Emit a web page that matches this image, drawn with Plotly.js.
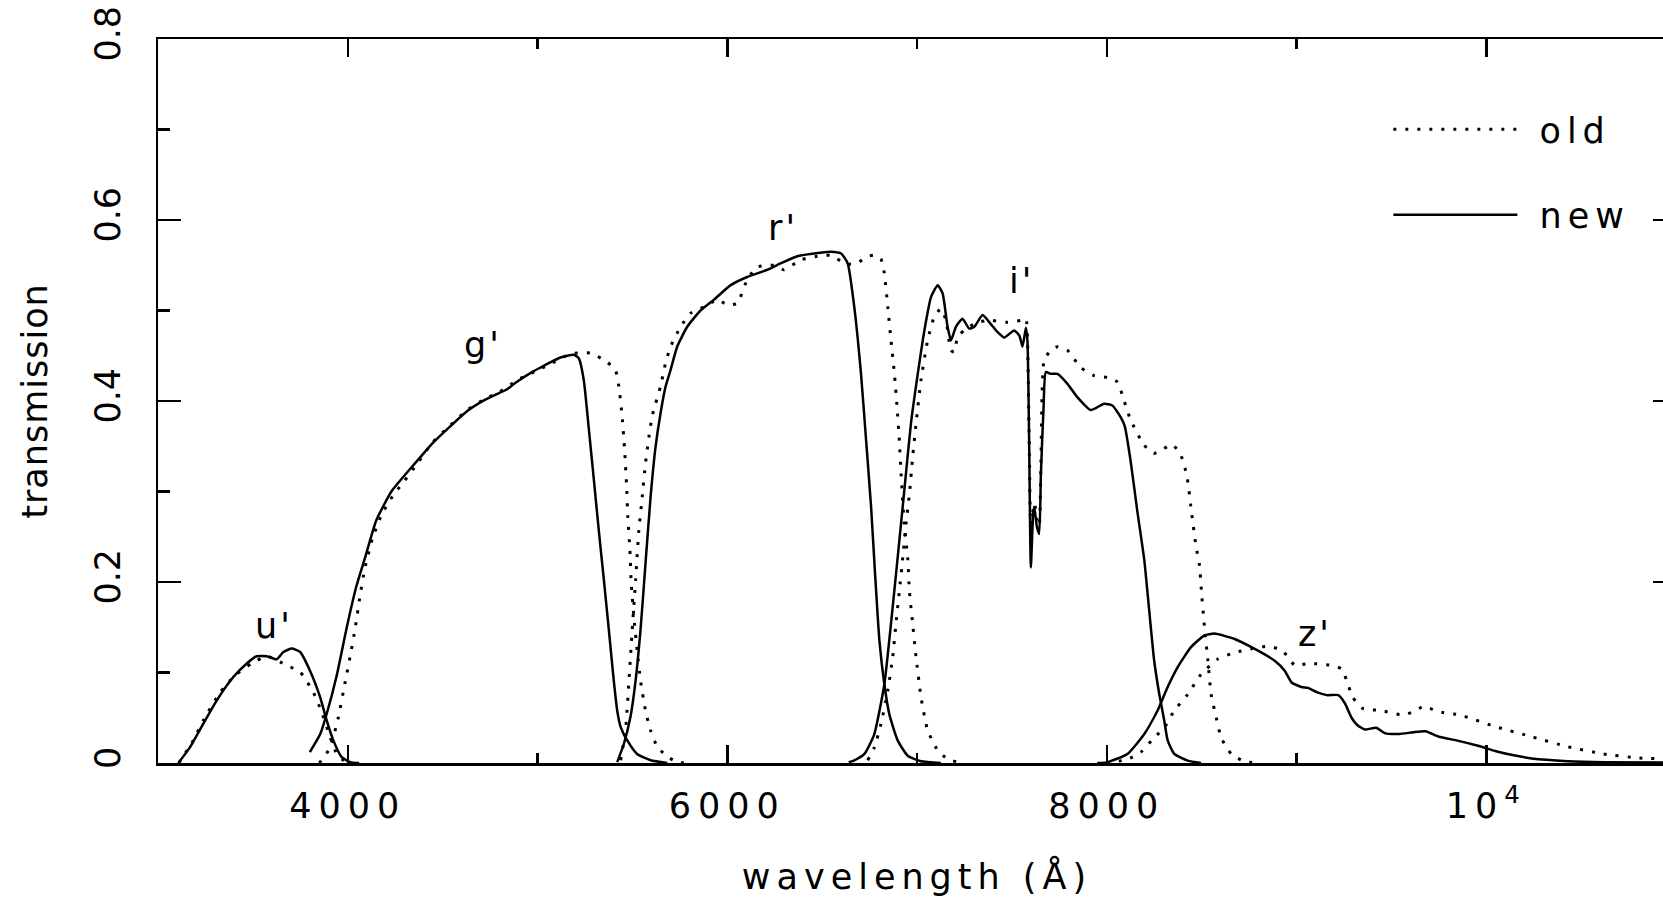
<!DOCTYPE html>
<html>
<head>
<meta charset="utf-8">
<script src="https://cdn.plot.ly/plotly-3.0.1.min.js"></script>
<style>
  html, body { margin: 0; padding: 0; overflow: hidden; background: #fff; }
  #chart { width: 1700px; height: 897px; }
  .xtick text { letter-spacing: 7px; }
  .g-xtitle text { letter-spacing: 6px; }
  .g-ytitle text { letter-spacing: 1px; }
  .legendtext { letter-spacing: 6px; }
  .annotation-text { letter-spacing: 3px; }
</style>
</head>
<body>
<div id="chart"></div>
<script>
// ---- data: wavelength (Angstrom) and transmission ----
const new_u_wl = [3107,3169,3239,3309,3397,3468,3520,3573,3626,3661,3705,3749,3801,3854,3889,3924,3968,4012,4060];
const new_u_t  = [0,0.0176,0.0435,0.069,0.095,0.110,0.118,0.118,0.1146,0.1226,0.1264,0.1226,0.102,0.073,0.047,0.025,0.0065,0.001,0];
const old_u_wl = [3110,3186,3239,3327,3406,3494,3573,3678,3749,3819,3863,3907,3942,3977,4020];
const old_u_t  = [0,0.025,0.047,0.078,0.097,0.110,0.118,0.108,0.1005,0.078,0.056,0.0286,0.010,0.003,0];

const new_g_wl = [3800,3855,3890,3940,3995,4045,4090,4150,4230,4300,4370,4450,4540,4630,4720,4800,4840,4890,4980,5016,5070,5121,5192,5218,5244,5271,5297,5323,5350,5376,5402,5420,5438,5473,5525,5596,5684];
const new_g_t  = [0.012,0.032,0.055,0.095,0.150,0.195,0.226,0.268,0.300,0.318,0.335,0.354,0.372,0.389,0.401,0.409,0.413,0.421,0.433,0.437,0.443,0.448,0.451,0.447,0.423,0.368,0.313,0.257,0.202,0.147,0.091,0.058,0.040,0.025,0.010,0.003,0];
const old_g_wl = [3850,3865,3905,3950,3985,4012,4040,4065,4090,4130,4180,4240,4300,4370,4450,4540,4630,4720,4800,4900,5000,5069,5174,5279,5367,5411,5429,5446,5459,5469,5476,5487,5494,5508,5525,5543,5569,5596,5631,5684,5736,5780];
const old_g_t  = [0,0.004,0.016,0.050,0.088,0.117,0.150,0.185,0.215,0.248,0.275,0.296,0.312,0.332,0.355,0.373,0.390,0.402,0.410,0.424,0.434,0.441,0.452,0.453,0.443,0.434,0.416,0.383,0.346,0.309,0.272,0.235,0.198,0.161,0.125,0.091,0.058,0.036,0.018,0.007,0.001,0];

const new_r_wl = [5420,5455,5490,5517,5543,5569,5596,5622,5648,5675,5701,5736,5789,5859,5930,6018,6105,6211,6281,6369,6457,6545,6600,6635,6670,6705,6732,6758,6779,6802,6828,6854,6898,6951,7021,7126];
const new_r_t  = [0.001,0.021,0.051,0.091,0.147,0.220,0.294,0.349,0.386,0.416,0.434,0.460,0.482,0.500,0.512,0.528,0.537,0.545,0.552,0.560,0.563,0.565,0.563,0.552,0.503,0.430,0.356,0.283,0.209,0.135,0.087,0.054,0.025,0.008,0.002,0];
const old_r_wl = [5438,5464,5482,5499,5517,5534,5552,5569,5587,5604,5622,5648,5675,5701,5754,5807,5877,5950,6000,6053,6105,6158,6246,6299,6387,6475,6545,6630,6690,6740,6780,6810,6828,6846,6863,6881,6895,6907,6916,6933,6951,6960,6977,6995,7021,7056,7109,7161,7232];
const old_r_t  = [0.003,0.036,0.091,0.147,0.202,0.257,0.294,0.331,0.360,0.383,0.397,0.416,0.442,0.460,0.482,0.497,0.504,0.512,0.506,0.508,0.534,0.548,0.550,0.545,0.556,0.560,0.561,0.551,0.553,0.560,0.561,0.557,0.541,0.504,0.467,0.430,0.393,0.356,0.320,0.264,0.227,0.190,0.154,0.117,0.073,0.036,0.014,0.0044,0];

const new_i_wl = [6640,6670,6723,6775,6828,6863,6898,6933,6968,7004,7039,7074,7109,7135,7161,7179,7205,7240,7275,7302,7346,7389,7425,7460,7486,7512,7540,7556,7574,7582,7591,7600,7612,7618,7632,7644,7653,7667,7679,7705,7740,7793,7846,7916,7986,8030,8074,8095,8125,8160,8198,8224,8250,8277,8303,8321,8356,8427,8497];
const new_i_t  = [0.001,0.003,0.010,0.032,0.087,0.154,0.227,0.301,0.375,0.430,0.478,0.515,0.528,0.519,0.482,0.467,0.482,0.491,0.480,0.482,0.495,0.485,0.476,0.470,0.474,0.478,0.472,0.460,0.481,0.467,0.356,0.216,0.275,0.283,0.261,0.253,0.320,0.393,0.432,0.430,0.430,0.419,0.404,0.390,0.397,0.395,0.382,0.372,0.335,0.280,0.224,0.168,0.113,0.076,0.047,0.025,0.010,0.0026,0];
const old_i_wl = [6740,6775,6810,6846,6872,6889,6907,6925,6942,6960,6977,6995,7021,7056,7091,7126,7153,7179,7196,7214,7249,7319,7389,7477,7547,7574,7582,7591,7600,7612,7620,7632,7644,7653,7670,7705,7740,7793,7863,7933,8004,8056,8080,8124,8194,8247,8299,8343,8387,8422,8448,8470,8489,8500,8515,8533,8550,8577,8603,8656,8727,8800];
const old_i_t  = [0.003,0.017,0.043,0.080,0.117,0.154,0.190,0.227,0.264,0.297,0.338,0.375,0.423,0.467,0.493,0.502,0.489,0.456,0.454,0.471,0.478,0.487,0.489,0.487,0.489,0.491,0.470,0.360,0.250,0.280,0.287,0.268,0.262,0.330,0.445,0.456,0.460,0.456,0.437,0.428,0.426,0.421,0.408,0.380,0.352,0.342,0.347,0.352,0.342,0.318,0.275,0.240,0.218,0.187,0.150,0.113,0.076,0.050,0.028,0.010,0.0015,0];

const new_z_wl = [7950,8000,8109,8198,8268,8321,8374,8444,8515,8568,8674,8780,8885,8938,8974,9026,9060,9110,9160,9220,9255,9290,9320,9360,9420,9465,9540,9616,9680,9750,9843,9956,10051,10145,10240,10430,10620,10950];
const new_z_t  = [0,0.0007,0.010,0.032,0.058,0.084,0.106,0.128,0.141,0.143,0.137,0.126,0.113,0.102,0.089,0.084,0.083,0.078,0.075,0.075,0.066,0.050,0.042,0.037,0.039,0.033,0.032,0.034,0.035,0.029,0.025,0.019,0.013,0.0085,0.005,0.002,0.0008,0.0004];
const old_z_wl = [8000,8109,8180,8250,8303,8356,8427,8497,8586,8674,8780,8850,8921,8956,8990,9068,9181,9238,9270,9295,9351,9446,9559,9620,9672,9720,9767,9862,10051,10240,10429,10618,10807,10950];
const old_z_t  = [0,0.004,0.012,0.028,0.039,0.058,0.076,0.098,0.115,0.122,0.127,0.129,0.125,0.117,0.108,0.110,0.108,0.104,0.088,0.073,0.060,0.058,0.053,0.057,0.063,0.059,0.056,0.053,0.040,0.029,0.018,0.010,0.0055,0.0045];

const band_labels = ["u'", "g'", "r'", "i'", "z'"];
const series_names = ["old", "new"];
const x_tick_vals = [4000, 6000, 8000, 10000];
const x_tick_text = ["4000", "6000", "8000", "10<sup>4</sup>"];
const x_minor_vals = [5000, 7000, 9000];
const y_tick_vals = [0, 0.2, 0.4, 0.6, 0.8];
const y_tick_text = ["0", "0.2", "0.4", "0.6", "0.8"];
const y_minor_vals = [0.1, 0.3, 0.5, 0.7];

// ---- build traces ----
const FONT = "DejaVu Sans, Lato, sans-serif";
const FS = 35;
const oldSets = [[old_u_wl, old_u_t], [old_g_wl, old_g_t], [old_r_wl, old_r_t], [old_i_wl, old_i_t], [old_z_wl, old_z_t]];
const newSets = [[new_u_wl, new_u_t], [new_g_wl, new_g_t], [new_r_wl, new_r_t], [new_i_wl, new_i_t], [new_z_wl, new_z_t]];

const traces = [];
oldSets.forEach((s, k) => traces.push({
  type: 'scatter', mode: 'lines', x: s[0], y: s[1],
  name: '\u00a0' + series_names[0], legendgroup: 'old', showlegend: k === 0,
  line: {color: '#000', width: 3, dash: '3px,9px', shape: 'spline', smoothing: 0.5},
  hoverinfo: 'skip'
}));
newSets.forEach((s, k) => traces.push({
  type: 'scatter', mode: 'lines', x: s[0], y: s[1],
  name: '\u00a0' + series_names[1], legendgroup: 'new', showlegend: k === 0,
  line: {color: '#000', width: 2.5, shape: 'spline', smoothing: 0.5},
  hoverinfo: 'skip'
}));

// label anchor positions (layout, data coordinates)
const labelPos = [[3609, 0.151], [4711, 0.462], [6293, 0.591], [7551, 0.533], [9100, 0.142]];
const annotations = band_labels.map((t, k) => ({
  x: labelPos[k][0], y: labelPos[k][1], xref: 'x', yref: 'y',
  text: t, showarrow: false, xanchor: 'center', yanchor: 'middle',
  font: {family: FONT, size: FS, color: '#000'}
}));

const axisCommon = {
  showline: true, linecolor: '#000', linewidth: 2.5, mirror: 'ticks',
  ticks: 'inside', tickcolor: '#000', tickwidth: 2.5,
  showgrid: false, zeroline: false, fixedrange: true,
  tickfont: {family: FONT, size: FS, color: '#000'}
};

const layout = {
  width: 1700, height: 897,
  margin: {l: 158, r: 24, t: 39, b: 134},
  paper_bgcolor: '#fff', plot_bgcolor: '#fff',
  showlegend: true,
  legend: {
    x: 0.8105, y: 0.9157, xanchor: 'left', yanchor: 'top',
    itemwidth: 124, tracegroupgap: 37, traceorder: 'grouped',
    bgcolor: 'rgba(0,0,0,0)', borderwidth: 0,
    font: {family: FONT, size: FS, color: '#000'}
  },
  xaxis: Object.assign({}, axisCommon, {
    range: [3000, 11000],
    tickmode: 'array', tickvals: x_tick_vals, ticktext: x_tick_text,
    ticklen: 18, ticklabelstandoff: 10,
    minor: {tickmode: 'array', tickvals: x_minor_vals, ticklen: 10, tickwidth: 2.5, tickcolor: '#000', ticks: 'inside', showgrid: false},
    title: {text: 'wavelength (Å)', standoff: 40, font: {family: FONT, size: FS, color: '#000'}}
  }),
  yaxis: Object.assign({}, axisCommon, {
    range: [0, 0.8],
    tickmode: 'array', tickvals: y_tick_vals, ticktext: y_tick_text,
    tickangle: -90, ticklen: 23, ticklabelstandoff: 22,
    minor: {tickmode: 'array', tickvals: y_minor_vals, ticklen: 12, tickwidth: 2.5, tickcolor: '#000', ticks: 'inside', showgrid: false},
    title: {text: 'transmission', standoff: 30, font: {family: FONT, size: FS, color: '#000'}}
  }),
  annotations: annotations
};

Plotly.newPlot('chart', traces, layout, {staticPlot: true, displayModeBar: false});
</script>
</body>
</html>
